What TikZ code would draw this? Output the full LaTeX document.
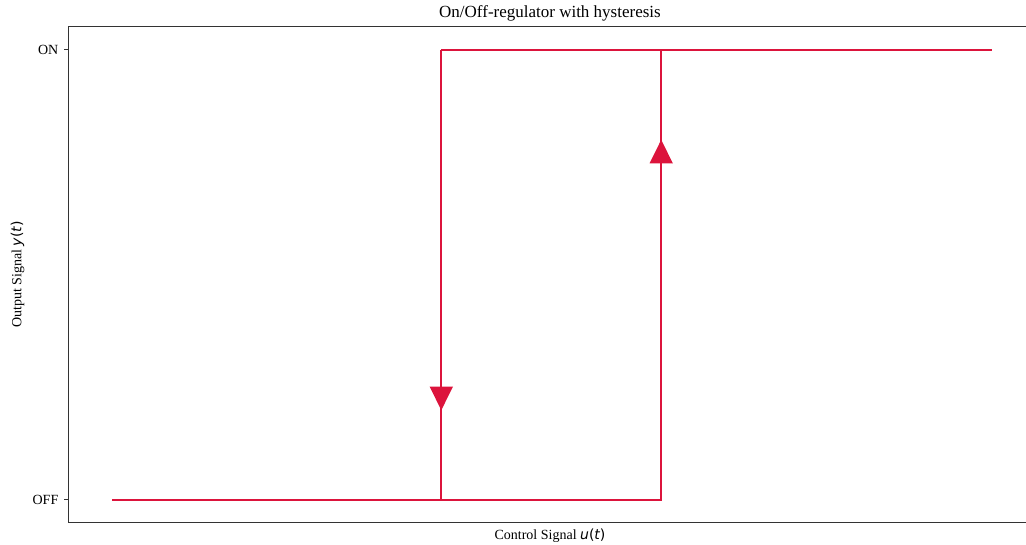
\documentclass[tikz,border=0pt]{standalone}
\usepackage{fontspec}
\setmainfont{Liberation Serif}
\newfontfamily\mathsans{DejaVu Sans}
\newcommand{\mvar}[1]{{\mathsans\itshape #1}}
\newcommand{\mpar}[1]{{\mathsans #1}}
\definecolor{curve}{HTML}{DC143C}
\definecolor{spine}{HTML}{333333}
\tikzset{
  spineline/.style={draw=spine, line width=1.1pt},
  tickline/.style={draw=spine, line width=0.9pt},
  hyst/.style={draw=curve, line width=2pt, line cap=butt, line join=miter},
  marker/.style={fill=curve, draw=none},
  ticklabel/.style={font=\fontsize{14}{16}\selectfont, anchor=east, inner sep=0pt},
  axislabel/.style={font=\fontsize{14}{16}\selectfont, inner sep=0pt},
}
\begin{document}
\begin{tikzpicture}[x=1pt, y=-1pt]
  \useasboundingbox (0,0) rectangle (1026,544);
  % axes frame (right side runs off the page)
  \draw[spineline] (1027,26.7) -- (68.5,26.7) -- (68.5,522.6) -- (1027,522.6);
  % y ticks
  \coordinate (onTick) at (68.5,49.8);
  \coordinate (offTick) at (68.5,499.8);
  \draw[tickline] (onTick) -- ++(-5,0);
  \draw[tickline] (offTick) -- ++(-5,0);
  \node[ticklabel] (onLbl) at (58.5,50) {ON};
  \node[ticklabel] (offLbl) at (58.5,500) {OFF};
  % hysteresis loop
  \coordinate (start) at (112,499.8);
  \coordinate (lowA) at (441.3,499.8);
  \coordinate (lowB) at (661.2,499.8);
  \coordinate (highA) at (441.3,49.8);
  \coordinate (highB) at (661.2,49.8);
  \coordinate (finish) at (991.5,49.8);
  \draw[hyst] (start) -- (lowB) -- (highB);
  \draw[hyst] (highA) -- (finish);
  \draw[hyst] (highA) -- (lowA);
  % direction markers
  \fill[marker] (429.6,386.6) -- (453,386.6) -- (441.3,410.2) -- cycle;
  \fill[marker] (649.5,163.4) -- (672.9,163.4) -- (661.2,139.8) -- cycle;
  % labels
  \node[font=\fontsize{17}{20}\selectfont, inner sep=0pt] (title) at (550,13.2) {On/Off-regulator with hysteresis};
  \node[axislabel] (xlbl) at (550,535.5) {Control Signal \mvar{u}\mpar{(}\mvar{t}\mpar{)}};
  \node[axislabel, rotate=90] (ylbl) at (17.5,274.5) {Output Signal \mvar{y}\mpar{(}\mvar{t}\mpar{)}};
\end{tikzpicture}
\end{document}
